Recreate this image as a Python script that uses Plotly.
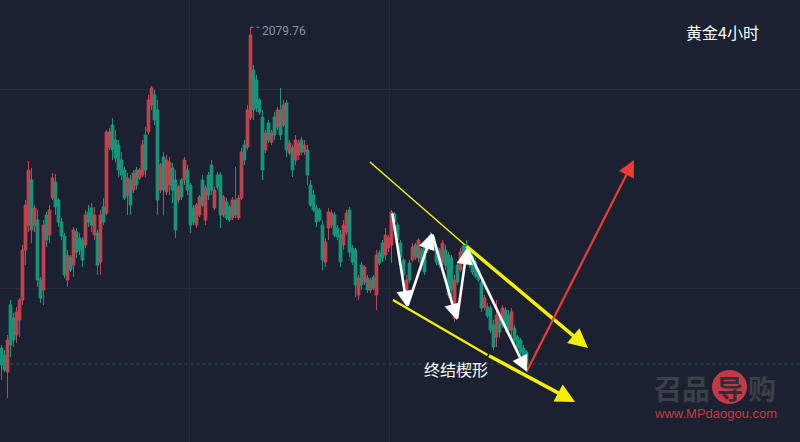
import plotly.graph_objects as go

# ---- candle data (gold, 4h) ----
opens = [1759,1752,1735,1802,1789,1772,1787,1807,1857,1882,1927,1882,1887,1827,1817,1892,1872,1909,1925,1907,
         1885,1871,1827,1850,1842,1875,1869,1867,1862,1895,1899,1872,1874,1845,1900,1894,1960,1982,1967,1962,
         1947,1937,1912,1927,1917,1937,1929,1932,1972,1975,2002,2012,1997,1917,1950,1915,1922,1939,1927,1907,
         1927,1927,1937,1922,1899,1882,1892,1927,1887,1932,1942,1899,1932,1932,1892,1905,1900,1889,1907,1889,
         1909,1962,1960,1989,2037,2027,2007,1990,1957,1984,1965,1990,1980,1997,1982,2004,1954,1959,1947,1952,
         1967,1955,1957,1922,1912,1899,1897,1882,1845,1879,1882,1892,1879,1872,1862,1875,1897,1859,1857,1812,
         1842,1825,1829,1817,1830,1812,1854,1864,1852,1859,1862,1893,1882,1864,1847,1809,1844,1847,1862,1849,
         1857,1860,1857,1872,1870,1860,1857,1845,1857,1852,1849,1789,1842,1837,1861,1862,1855,1851,1845,1837,
         1825,1800,1800,1799,1782,1770,1789,1782,1797,1792,1777,1779,1770,1767,1759,1755]
highs = [1762,1757,1772,1807,1794,1800,1809,1862,1907,1946,1939,1902,1897,1830,1887,1895,1902,1934,1933,1909,
         1889,1874,1857,1852,1880,1879,1874,1870,1897,1902,1904,1900,1877,1897,1909,1977,1979,1989,1977,1967,
         1955,1940,1934,1932,1937,1940,1939,1967,1980,2012,2021,2017,2007,1944,1955,1952,1950,1944,1937,1922,
         1929,1950,1942,1924,1902,1904,1912,1932,1922,1935,1947,1920,1935,1935,1912,1909,1902,1910,1940,1912,
         1959,1967,2002,2079.76,2042,2032,2009,1997,1977,1987,1977,1995,2000,2019,2007,2007,1967,1962,1972,1967,
         1970,1967,1962,1927,1917,1902,1899,1887,1869,1899,1897,1895,1882,1877,1887,1897,1900,1862,1859,1832,
         1845,1842,1832,1829,1832,1857,1857,1867,1879,1872,1897,1895,1885,1867,1849,1832,1847,1864,1864,1869,
         1859,1862,1869,1875,1872,1862,1859,1867,1862,1855,1852,1832,1845,1859,1864,1867,1857,1854,1849,1839,
         1829,1812,1804,1802,1787,1807,1792,1802,1800,1797,1799,1782,1772,1769,1762,1757]
lows = [1727,1735,1709,1750,1760,1764,1770,1802,1842,1875,1864,1875,1820,1804,1802,1860,1864,1907,1892,1880,
        1867,1829,1820,1835,1830,1849,1852,1840,1859,1880,1875,1867,1832,1832,1882,1892,1957,1947,1945,1930,
        1927,1907,1892,1892,1914,1917,1927,1930,1930,1972,1997,1982,1892,1914,1892,1912,1912,1904,1869,1904,
        1907,1922,1912,1874,1882,1879,1890,1900,1882,1907,1912,1897,1917,1879,1890,1887,1885,1887,1889,1887,
        1907,1942,1957,1987,1987,1995,1992,1927,1954,1964,1962,1967,1977,1967,1980,1950,1952,1930,1942,1947,
        1952,1952,1922,1900,1895,1880,1885,1837,1840,1867,1879,1870,1867,1840,1857,1872,1850,1842,1810,1807,
        1817,1822,1814,1814,1817,1797,1842,1845,1847,1855,1844,1882,1864,1845,1829,1802,1824,1845,1847,1845,
        1837,1832,1854,1857,1857,1842,1839,1842,1837,1809,1807,1785,1822,1835,1842,1842,1839,1832,1829,1825,
        1795,1797,1789,1774,1757,1760,1769,1779,1775,1772,1769,1764,1755,1752,1744,1740]
closes = [1742,1737,1767,1762,1767,1795,1807,1857,1902,1937,1877,1899,1827,1809,1882,1867,1897,1929,1900,1885,
          1871,1832,1852,1837,1877,1855,1857,1847,1892,1885,1882,1892,1842,1892,1885,1975,1975,1957,1949,1937,
          1932,1909,1929,1902,1934,1922,1937,1962,1937,2007,2019,1987,1907,1942,1917,1947,1945,1917,1877,1920,
          1910,1947,1917,1882,1885,1902,1910,1902,1919,1912,1917,1917,1920,1892,1910,1889,1887,1907,1892,1909,
          1955,1947,1997,2072,1997,1999,1995,1937,1974,1967,1974,1972,1997,1972,2002,1957,1964,1937,1967,1964,
          1955,1962,1932,1902,1897,1885,1887,1847,1865,1895,1894,1872,1870,1845,1882,1894,1855,1845,1822,1829,
          1822,1840,1817,1827,1819,1852,1844,1849,1872,1869,1895,1885,1867,1849,1832,1827,1827,1860,1850,1867,
          1842,1835,1867,1860,1859,1845,1842,1864,1842,1812,1817,1827,1825,1855,1845,1845,1842,1835,1831,1827,
          1799,1809,1791,1777,1760,1792,1775,1799,1779,1777,1795,1767,1759,1755,1747,1743]
idx = list(range(len(opens)))

PEAK_LABEL = "2079.76"
PEAK_IDX = 83
PEAK_PRICE = 2079.76
LAST_PRICE = closes[-1]

TITLE = "黄金4小时"
PATTERN = "终结楔形"

# drawn annotations (index, price)
upper_line = [(122.8, 1945), (154.5, 1862), (195.5, 1759)]
lower_line = [(130.5, 1807), (162.0, 1752), (191.2, 1705)]
red_arrow = [(174.8, 1734), (210.8, 1947)]
zigzag = [(130.2, 1895), (135.2, 1800), (143.5, 1874), (151.8, 1787), (155.2, 1859), (175.2, 1735)]

BG = "#1b2130"
UP = "#c4434f"
DOWN = "#16977c"
GRID = "#252d3b"

fig = go.Figure()
fig.add_trace(go.Candlestick(
    x=idx, open=opens, high=highs, low=lows, close=closes,
    increasing=dict(line=dict(color=UP, width=1), fillcolor=UP),
    decreasing=dict(line=dict(color=DOWN, width=1), fillcolor=DOWN),
    whiskerwidth=0, hoverinfo="skip", showlegend=False))

XMAX = 800 / 3 - 0.5
YMIN, YMAX = 1665, 2107

shapes = []
shapes.append(dict(type="line", xref="x", yref="y", x0=3, x1=XMAX, y0=LAST_PRICE, y1=LAST_PRICE,
                   line=dict(color="#2c5656", width=1, dash="dot")))
shapes.append(dict(type="line", xref="x", yref="y", x0=PEAK_IDX, x1=PEAK_IDX + 3, y0=PEAK_PRICE, y1=PEAK_PRICE,
                   line=dict(color="#8a919c", width=1, dash="dot")))
shapes.append(dict(type="line", xref="x", yref="y", x0=upper_line[0][0], y0=upper_line[0][1],
                   x1=upper_line[1][0], y1=upper_line[1][1], line=dict(color="#f5f000", width=1.5)))
shapes.append(dict(type="line", xref="x", yref="y", x0=lower_line[0][0], y0=lower_line[0][1],
                   x1=lower_line[1][0], y1=lower_line[1][1], line=dict(color="#f5f000", width=2.2)))
shapes.append(dict(type="circle", xref="paper", yref="paper", x0=712/800, x1=747/800,
                   y0=1-404/442, y1=1-370/442, line=dict(width=0), fillcolor="#c23a46"))

ann = []
def arrow(p0, p1, color, width, size):
    ann.append(dict(x=p1[0], y=p1[1], ax=p0[0], ay=p0[1], xref="x", yref="y", axref="x", ayref="y",
                    showarrow=True, arrowhead=2, arrowsize=size, arrowwidth=width, arrowcolor=color,
                    standoff=0, startstandoff=0, text=""))

arrow(upper_line[1], upper_line[2], "#f5f000", 3.5, 1.1)
arrow(lower_line[1], lower_line[2], "#f5f000", 3.5, 1.1)
arrow(red_arrow[0], red_arrow[1], "#f03a32", 2.2, 1.5)
for a, b in zip(zigzag[:-1], zigzag[1:]):
    arrow(a, b, "#ffffff", 2.6, 1.25)

def label(px, py, text, size, color, family="Noto Sans CJK SC"):
    ann.append(dict(x=px/800, y=1-py/442, xref="paper", yref="paper", text=text, showarrow=False,
                    xanchor="center", yanchor="middle", font=dict(family=family, size=size, color=color)))

ann.append(dict(x=PEAK_IDX, y=PEAK_PRICE, xref="x", yref="y", text=PEAK_LABEL, showarrow=False,
                xanchor="left", yanchor="middle", xshift=9, yshift=-4,
                font=dict(family="Roboto, Noto Sans", size=12, color="#8a919c")))
label(722, 32, TITLE, 16, "#ffffff")
label(456, 369, PATTERN, 16, "#ffffff")
# watermark
label(682, 388, "<b>召品</b>", 28, "#3b3f47")
label(729.5, 387, "<b>导</b>", 26, "#2c3039")
label(762, 388, "<b>购</b>", 28, "#3b3f47")
label(715, 413, "www.MPdaogou.com", 13, "#c23a46", "Liberation Sans")

fig.update_layout(
    width=800, height=442, margin=dict(l=0, r=0, t=0, b=0),
    paper_bgcolor=BG, plot_bgcolor=BG, showlegend=False, boxgap=0.05, boxgroupgap=0.05,
    shapes=shapes, annotations=ann,
    xaxis=dict(range=[-0.5, XMAX], rangeslider=dict(visible=False), showticklabels=False,
               tickvals=[62.8, 129.2], showgrid=True, gridcolor=GRID, gridwidth=1, zeroline=False,
               showline=False, ticks=""),
    yaxis=dict(range=[YMIN, YMAX], showticklabels=False, tickvals=[2018, 1819], showgrid=True,
               gridcolor=GRID, gridwidth=1, zeroline=False, showline=False, ticks=""),
)

fig.write_html("out.html", config={"displayModeBar": False, "staticPlot": True},
               post_script="document.body.style.margin='0px';document.body.style.overflow='hidden';")
